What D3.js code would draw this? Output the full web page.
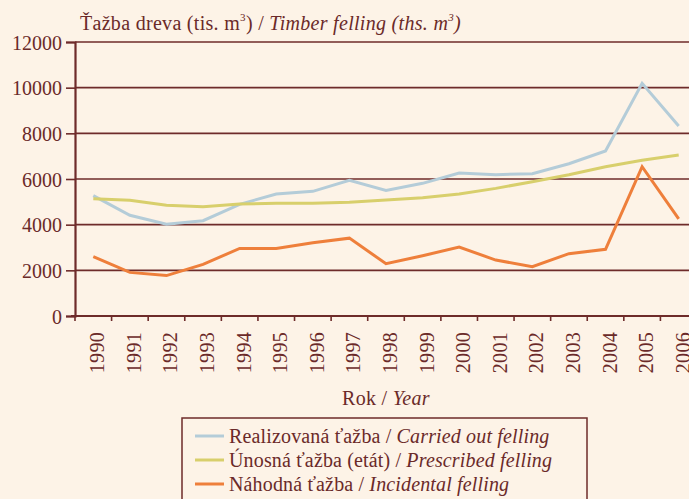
<!DOCTYPE html>
<html>
<head>
<meta charset="utf-8">
<script src="https://cdn.jsdelivr.net/npm/d3@7"></script>
<style>
  html, body { margin: 0; padding: 0; background: #fdf3e7; }
  svg { display: block; }
</style>
</head>
<body>
<svg id="chart" width="689" height="499"></svg>
<script>
const years = ["1990","1991","1992","1993","1994","1995","1996","1997","1998","1999","2000","2001","2002","2003","2004","2005","2006"];
const carriedOut = [5270, 4410, 4015, 4175, 4890, 5340, 5460, 5940, 5500, 5810, 6260, 6190, 6230, 6670, 7230, 10190, 8320];
const prescribed = [5140, 5070, 4850, 4790, 4900, 4935, 4935, 4980, 5080, 5180, 5340, 5590, 5880, 6190, 6540, 6820, 7050];
const incidental = [2600, 1910, 1770, 2260, 2960, 2960, 3210, 3410, 2290, 2640, 3020, 2450, 2160, 2730, 2920, 6540, 4250];
const yTicks = [0, 2000, 4000, 6000, 8000, 10000, 12000];
const seriesNames = [
  ["Realizovaná ťažba / ", "Carried out felling"],
  ["Únosná ťažba (etát) / ", "Prescribed felling"],
  ["Náhodná ťažba / ", "Incidental felling"]
];
const seriesColors = ["#b4ccd8", "#d8cf6c", "#ee7f3b"];
const seriesData = [carriedOut, prescribed, incidental];

const maroon = "#6e2b2a";
const textColor = "#6b2a29";
const FONT = "Liberation Serif";
const svg = d3.select("#chart");

const x = d3.scaleBand().domain(years).range([75, 697]).padding(0);
const y = d3.scaleLinear().domain([0, 12000]).range([316, 42]);

// gridlines
svg.append("g").selectAll("line").data(yTicks.filter(d => d > 0)).join("line")
  .attr("x1", 75).attr("x2", 697)
  .attr("y1", d => y(d)).attr("y2", d => y(d))
  .attr("stroke", maroon).attr("stroke-width", 1.6);

// y axis
const yAxis = svg.append("g").attr("transform", "translate(75,0)")
  .call(d3.axisLeft(y).tickValues(yTicks).tickSize(9).tickPadding(4).tickFormat(d3.format("d")));
yAxis.attr("font-family", FONT);
yAxis.select(".domain").attr("stroke", maroon).attr("stroke-width", 2.2);
yAxis.selectAll(".tick line").attr("stroke", maroon).attr("stroke-width", 1.6);
yAxis.selectAll(".tick text").attr("font-size", 20).attr("fill", textColor)
  .attr("font-family", FONT).attr("dy", "0.35em");

// x axis (ticks at band boundaries)
const xg = svg.append("g");
xg.append("line").attr("x1", 71).attr("x2", 697).attr("y1", y(0)).attr("y2", y(0))
  .attr("stroke", maroon).attr("stroke-width", 2.2);
xg.selectAll("line.tk").data(years).join("line").attr("class", "tk")
  .attr("x1", d => x(d)).attr("x2", d => x(d))
  .attr("y1", y(0)).attr("y2", y(0) + 5)
  .attr("stroke", maroon).attr("stroke-width", 1.6);
xg.selectAll("text").data(years).join("text")
  .attr("transform", d => `translate(${x(d) + x.bandwidth() / 2 + 11},332) rotate(-90)`)
  .attr("text-anchor", "end")
  .attr("font-family", FONT).attr("fill", textColor)
  .attr("font-size", 20).attr("letter-spacing", 0.3)
  .text(d => d);

// lines
const line = d3.line()
  .x((d, i) => x(years[i]) + x.bandwidth() / 2)
  .y(d => y(d));
seriesData.forEach((s, k) => {
  svg.append("path").datum(s)
    .attr("fill", "none").attr("stroke", seriesColors[k])
    .attr("stroke-width", 3).attr("stroke-linejoin", "miter")
    .attr("d", line);
});

// title
const title = svg.append("text").attr("x", 80).attr("y", 30).attr("font-size", 20)
  .attr("font-family", FONT).attr("fill", textColor).attr("letter-spacing", 0.3);
title.append("tspan").text("Ťažba dreva (tis. m");
title.append("tspan").attr("font-size", 11).attr("dy", -9).text("3");
title.append("tspan").attr("dy", 9).text(") / ");
title.append("tspan").attr("font-style", "italic").text("Timber felling (ths. m");
title.append("tspan").attr("font-style", "italic").attr("font-size", 11).attr("dy", -9).text("3");
title.append("tspan").attr("font-style", "italic").attr("dy", 9).text(")");

// x axis title
const xt = svg.append("text").attr("x", 386).attr("y", 405).attr("text-anchor", "middle")
  .attr("font-size", 20).attr("font-family", FONT).attr("fill", textColor).attr("letter-spacing", 0.3);
xt.append("tspan").text("Rok / ");
xt.append("tspan").attr("font-style", "italic").text("Year");

// legend
const lg = svg.append("g");
lg.append("rect").attr("x", 182).attr("y", 418).attr("width", 405).attr("height", 100)
  .attr("fill", "none").attr("stroke", maroon).attr("stroke-width", 1.5);
seriesNames.forEach((nm, k) => {
  const cy = 436 + k * 24;
  lg.append("line").attr("x1", 195).attr("x2", 224).attr("y1", cy).attr("y2", cy)
    .attr("stroke", seriesColors[k]).attr("stroke-width", 3);
  const t = lg.append("text").attr("x", 229).attr("y", cy + 7).attr("font-size", 20)
    .attr("font-family", FONT).attr("fill", textColor).attr("letter-spacing", 0.15);
  t.append("tspan").text(nm[0]);
  t.append("tspan").attr("font-style", "italic").text(nm[1]);
});
</script>
</body>
</html>
